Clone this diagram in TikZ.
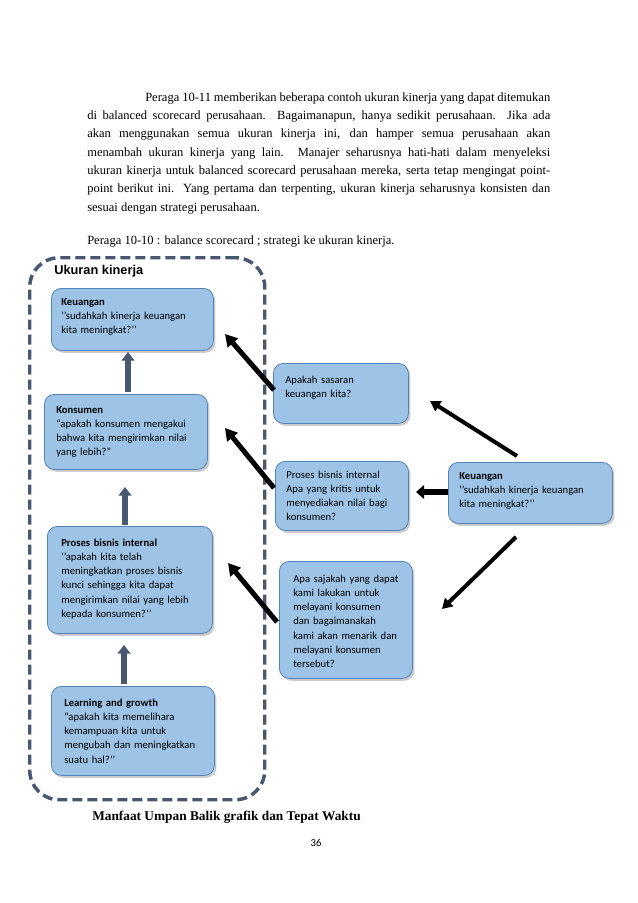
\documentclass[tikz,border=0pt]{standalone}
\usepackage{fontspec}
\setmainfont{Liberation Serif}
\newfontfamily\boxfont{Carlito}
\newfontfamily\headfont{Liberation Sans}
\usetikzlibrary{arrows.meta,shadows}
\definecolor{boxfill}{RGB}{157,195,230}
\definecolor{boxline}{RGB}{84,130,185}
\definecolor{slate}{RGB}{72,88,112}
\begin{document}
\begin{tikzpicture}[x=0.75pt,y=-0.75pt,
  card/.style={draw=boxline, line width=0.6pt, fill=boxfill, rounded corners=7.5pt,
    drop shadow={opacity=0.4, shadow xshift=1.5pt, shadow yshift=-1.8pt},
    inner sep=0pt, anchor=north west},
  cardtext/.style={font=\boxfont\fontsize{8}{10.7}\selectfont, align=left,
    anchor=base west, inner sep=0pt, text width=#1},
  cardtext/.default=118pt,
  uparrow/.style={draw=slate, line width=4.5pt, -{Triangle[length=6.5pt,width=9.5pt]}},
  bigarrow/.style={draw=black, line width=3.75pt, -{Triangle[length=9pt,width=10pt]}},
  smallarrow/.style={draw=black, line width=3pt, -{Triangle[length=7.5pt,width=8.5pt]}},
  sidearrow/.style={draw=black, line width=4.5pt, -{Triangle[length=6pt,width=10pt]}},
  bodytext/.style={font=\fontsize{9.4}{13.75}\selectfont, inner sep=0pt, anchor=base west}
]
\useasboundingbox (0,0) rectangle (638,903);
\fill[white] (0,0) rectangle (638,903);

% paragraph
\node[bodytext, text width=347.25pt, align=justify] (para) at (87,101)
{\hspace*{43.5pt}Peraga 10-11 memberikan beberapa contoh ukuran kinerja yang dapat ditemukan\linebreak
di balanced scorecard perusahaan. Bagaimanapun, hanya sedikit perusahaan. Jika ada\linebreak
akan menggunakan semua ukuran kinerja ini, dan hamper semua perusahaan akan\linebreak
menambah ukuran kinerja yang lain. Manajer seharusnya hati-hati dalam menyeleksi\linebreak
ukuran kinerja untuk balanced scorecard perusahaan mereka, serta tetap mengingat point-\linebreak
point berikut ini. Yang pertama dan terpenting, ukuran kinerja seharusnya konsisten dan\linebreak
sesuai dengan strategi perusahaan.};

\node[bodytext] (caption) at (87,244) {Peraga 10-10 : balance scorecard ; strategi ke ukuran kinerja.};

% dashed frame
\node[draw=slate, line width=2.6pt, dash pattern=on 7.5pt off 3.75pt, rounded corners=22pt,
  minimum width=176.25pt, minimum height=406.5pt, anchor=north west, inner sep=0pt] (frame) at (28,256) {};
\node[font=\headfont\bfseries\fontsize{9.6}{11}\selectfont, anchor=base west, inner sep=0pt] (ftitle) at (54,274) {Ukuran kinerja};

% left cards
\node[card, minimum width=121.5pt, minimum height=46.5pt] (kL) at (51,288) {};
\node[cardtext] (kLt) at (61,305) {\textbf{Keuangan}\\’’sudahkah kinerja keuangan\\kita meningkat?’’};

\node[card, minimum width=122.25pt, minimum height=56.25pt] (kons) at (44,394) {};
\node[cardtext] (konst) at (56,413) {\textbf{Konsumen}\\“apakah konsumen mengakui\\bahwa kita mengirimkan nilai\\yang lebih?”};

\node[card, minimum width=123.75pt, minimum height=80.25pt] (pbi) at (47,526) {};
\node[cardtext] (pbit) at (61,546) {\textbf{Proses bisnis internal}\\’’apakah kita telah\\meningkatkan proses bisnis\\kunci sehingga kita dapat\\mengirimkan nilai yang lebih\\kepada konsumen?’’};

\node[card, minimum width=122.25pt, minimum height=66.75pt] (lg) at (51,686) {};
\node[cardtext] (lgt) at (64,706) {\textbf{Learning and growth}\\“apakah kita memelihara\\kemampuan kita untuk\\mengubah dan meningkatkan\\suatu hal?’’};

% right cards
\node[card, minimum width=101.25pt, minimum height=45pt] (sas) at (273,363) {};
\node[cardtext=95pt] (sast) at (285,383) {Apakah sasaran\\keuangan kita?};

\node[card, minimum width=99.75pt, minimum height=51.75pt] (pbm) at (275,461) {};
\node[cardtext=95pt] (pbmt) at (286,478) {Proses bisnis internal\\Apa yang kritis untuk\\menyediakan nilai bagi\\konsumen?};

\node[card, minimum width=99.75pt, minimum height=87.75pt] (saj) at (279,561) {};
\node[cardtext=95pt] (sajt) at (293,582) {Apa sajakah yang dapat\\kami lakukan untuk\\melayani konsumen\\dan bagaimanakah\\kami akan menarik dan\\melayani konsumen\\tersebut?};

\node[card, minimum width=123pt, minimum height=45.75pt] (kR) at (448,462) {};
\node[cardtext] (kRt) at (459,479) {\textbf{Keuangan}\\’’sudahkah kinerja keuangan\\kita meningkat?’’};

% arrow end points
\coordinate (u1a) at (128,392); \coordinate (u1b) at (128,352);
\coordinate (u2a) at (125,525); \coordinate (u2b) at (125,487);
\coordinate (u3a) at (124,684); \coordinate (u3b) at (124,645);
\coordinate (a1a) at (274,390); \coordinate (a1b) at (225,334);
\coordinate (a2a) at (274,488); \coordinate (a2b) at (225,428);
\coordinate (a3a) at (277,622); \coordinate (a3b) at (228,563);
\coordinate (a4a) at (517,456); \coordinate (a4b) at (430,401);
\coordinate (a5a) at (448,492); \coordinate (a5b) at (416,492);
\coordinate (a6a) at (516,537); \coordinate (a6b) at (442,609);

\draw[uparrow] (u1a) -- (u1b);
\draw[uparrow] (u2a) -- (u2b);
\draw[uparrow] (u3a) -- (u3b);
\draw[bigarrow] (a1a) -- (a1b);
\draw[bigarrow] (a2a) -- (a2b);
\draw[bigarrow] (a3a) -- (a3b);
\draw[smallarrow] (a4a) -- (a4b);
\draw[sidearrow] (a5a) -- (a5b);
\draw[smallarrow] (a6a) -- (a6b);

% footer
\node[font=\bfseries\fontsize{10}{12}\selectfont, anchor=base west, inner sep=0pt] (foot) at (92,820) {Manfaat Umpan Balik grafik dan Tepat Waktu};
\node[font=\boxfont\fontsize{8}{10}\selectfont, anchor=base, inner sep=0pt] (pg) at (316,846) {36};
\end{tikzpicture}
\end{document}
